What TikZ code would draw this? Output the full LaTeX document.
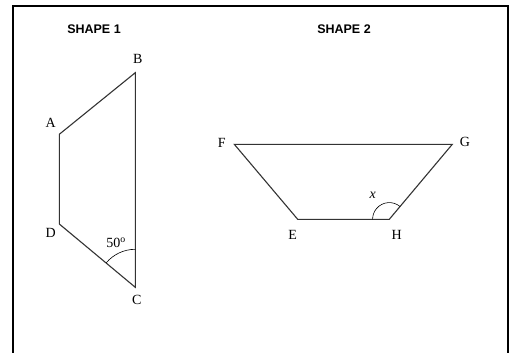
\documentclass[tikz,border=0pt]{standalone}
\usepackage{fontspec}
\setmainfont{Liberation Serif}
\newfontfamily\titlefont{Liberation Sans}
\usetikzlibrary{angles}
\begin{document}
\begin{tikzpicture}[x=1pt,y=-1pt,
  edge/.style={line width=1.1pt,draw=black!80,line join=miter},
  lbl/.style={inner sep=0pt,font=\fontsize{14}{16}\selectfont},
  ttl/.style={inner sep=0pt,font=\titlefont\bfseries\fontsize{12.5}{14}\selectfont},
  frame/.style={line width=1.8pt,draw=black}]
\useasboundingbox (0,0) rectangle (509,353);
% frame
\draw[frame] (13,360) -- (13,6) -- (508,6) -- (508,360);
% titles
\node[ttl] (t1) at (94,29) {SHAPE 1};
\node[ttl] (t2) at (344,29) {SHAPE 2};
% shape 1
\coordinate (A) at (59.3,134.3);
\coordinate (B) at (135.3,72.7);
\coordinate (C) at (135.3,287.3);
\coordinate (D) at (59.3,224);
\draw[edge] (A) -- (B) -- (C) -- (D) -- cycle;
\pic[draw,line width=0.6pt,angle radius=38pt] {angle=B--C--D};
\node[lbl] (lA) at (50.7,122.7) {A};
\node[lbl] (lB) at (137.7,59) {B};
\node[lbl] (lC) at (136.7,300) {C};
\node[lbl] (lD) at (50.7,233) {D};
\node[lbl] (l50) at (116,243) {50\textsuperscript{o}};
% shape 2
\coordinate (F) at (234.3,144.3);
\coordinate (G) at (452.3,144.3);
\coordinate (H) at (389.3,219.3);
\coordinate (E) at (297.7,219.3);
\draw[edge] (F) -- (G) -- (H) -- (E) -- cycle;
\pic[draw,line width=0.6pt,angle radius=16.7pt] {angle=G--H--E};
\node[lbl] (lF) at (221.7,143.3) {F};
\node[lbl] (lG) at (465,141.7) {G};
\node[lbl] (lE) at (292.7,235) {E};
\node[lbl] (lH) at (396.7,235) {H};
\node[lbl] (lx) at (372.7,195) {\itshape x};
\end{tikzpicture}
\end{document}
